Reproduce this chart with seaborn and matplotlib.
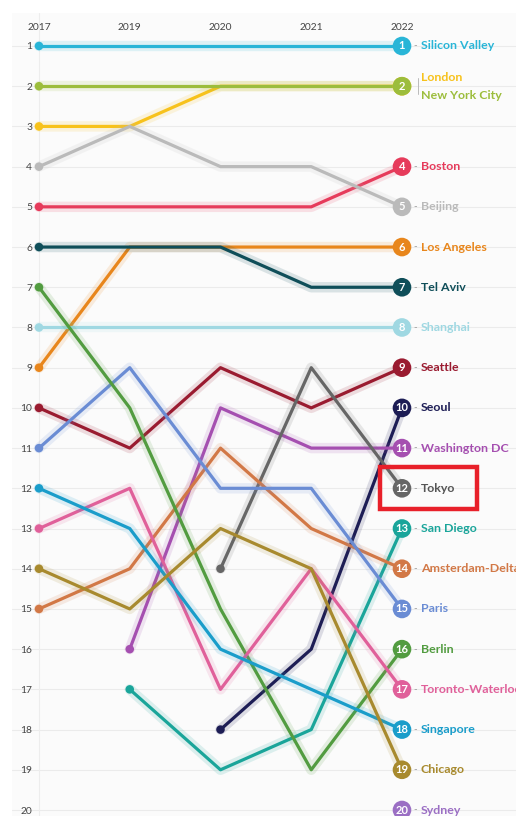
import numpy as np
import pandas as pd
import seaborn as sns
import matplotlib
matplotlib.use("Agg")
import matplotlib.pyplot as plt
import matplotlib.patheffects as pe
from matplotlib.patches import Rectangle

years = ['2017', '2019', '2020', '2021', '2022']
cities = ['Silicon Valley', 'London', 'New York City', 'Boston', 'Beijing',
          'Los Angeles', 'Tel Aviv', 'Shanghai', 'Seattle', 'Seoul',
          'Washington DC', 'Tokyo', 'San Diego', 'Amsterdam-Delta', 'Paris',
          'Berlin', 'Toronto-Waterloo', 'Singapore', 'Chicago', 'Sydney']
nan = np.nan
rank_2017 = [1, 3, 2, 5, 4, 9, 6, 8, 10, nan, nan, nan, nan, 15, 11, 7, 13, 12, 14, nan]
rank_2019 = [1, 3, 2, 5, 3, 6, 6, 8, 11, nan, 16, nan, 17, 14, 9, 10, 12, 13, 15, nan]
rank_2020 = [1, 2, 2, 5, 4, 6, 6, 8, 9, 18, 10, 14, 19, 11, 12, 15, 17, 16, 13, nan]
rank_2021 = [1, 2, 2, 5, 4, 6, 7, 8, 10, 16, 11, 9, 18, 13, 12, 19, 14, 17, 14, nan]
rank_2022 = [1, 2, 2, 4, 5, 6, 7, 8, 9, 10, 11, 12, 13, 14, 15, 16, 17, 18, 19, 20]
colors = ['#29b5d7', '#f7c21c', '#9cbd3c', '#e63b5b', '#bababa',
          '#e8861c', '#0f4e59', '#9fd8e2', '#9a1b30', '#1d1d55',
          '#a54fb0', '#666666', '#1aa59a', '#d27846', '#6a8cd4',
          '#529c40', '#e0609a', '#1a9dca', '#a88a2e', '#9b6fc4']
highlight_city = 'Tokyo'

palette = dict(zip(cities, colors))
ranks = [rank_2017, rank_2019, rank_2020, rank_2021, rank_2022]
rows = []
for yi, yr in enumerate(years):
    for ci, c in enumerate(cities):
        rows.append({'city': c, 'year': yr, 'x': yi, 'rank': ranks[yi][ci]})
df = pd.DataFrame(rows)

sns.set_theme(style='white')
plt.rcParams['font.family'] = ['Lato', 'DejaVu Sans']

W, H = 516, 816
fig = plt.figure(figsize=(W / 100, H / 100), dpi=100)
fig.patch.set_facecolor('white')
ax_left, ax_top = 12, 13
ax = fig.add_axes([ax_left / W, 0, 1 - ax_left / W, 1 - ax_top / H])
ax.set_facecolor('#fbfbfb')

# scale: x index 0 at px 39, index 4 at px 402 ; rank 1 at px 46, rank 20 at px 810
xu = (402 - 39) / 4
yu = (810 - 46) / 19
ax.set_xlim(-(39 - ax_left) / xu, (W - 39) / xu)
ax.set_ylim(1 + (H - 46) / yu, 1 - (46 - ax_top) / yu)

# gridlines
for r in range(1, 21):
    ax.axhline(r, color='#ebebeb', lw=0.8, zorder=0)
ax.axvline(0, color='#ededed', lw=0.8, zorder=0)

for c in cities:
    sub = df[(df.city == c)].dropna()
    if len(sub) < 2:
        continue
    col = palette[c]
    sns.lineplot(data=sub, x='x', y='rank', color=col, lw=2.3, ax=ax,
                 sort=False, legend=False, zorder=3,
                 path_effects=[pe.Stroke(linewidth=7.5, foreground=col, alpha=0.14),
                               pe.Normal()])
    first = sub.iloc[[0]]
    sns.scatterplot(data=first, x='x', y='rank', color=col, s=38, ax=ax,
                    edgecolor='none', legend=False, zorder=4)

end = df[df.year == years[-1]]
sns.scatterplot(data=end, x='x', y='rank', hue='city', palette=palette, s=180,
                ax=ax, edgecolor='none', legend=False, zorder=5)

LFS = 8.9
for _, row in end.iterrows():
    c, r = row.city, row['rank']
    col = palette[c]
    if c == 'London':
        continue
    ax.text(row.x, r, str(int(r)), color='white', fontsize=8, fontweight='bold',
            ha='center', va='center', zorder=6)
    if c == 'New York City':
        ax.annotate('London', (row.x, r), xytext=(13.5, 6.5), textcoords='offset points',
                    color=palette['London'], fontsize=LFS, fontweight='bold',
                    va='center', ha='left', annotation_clip=False)
        ax.annotate('New York City', (row.x, r), xytext=(13.5, -6.5),
                    textcoords='offset points', color=col, fontsize=LFS,
                    fontweight='bold', va='center', ha='left', annotation_clip=False)
        ax.plot([row.x + 11.5 / xu * 1.389] * 2, [r - 0.2, r + 0.2], color='#bbbbbb', lw=0.7)
        continue
    tcol = '#555555' if c == 'Tokyo' else col
    ax.annotate('-', (row.x, r), xytext=(8.5, 0), textcoords='offset points',
                color='#999999', fontsize=7, va='center', ha='left')
    ax.annotate(c, (row.x, r), xytext=(13.5, 0), textcoords='offset points',
                color=tcol, fontsize=LFS, fontweight='bold', va='center', ha='left',
                annotation_clip=False)

# highlight box
hr = rank_2022[cities.index(highlight_city)]
ax.add_patch(Rectangle((4 - 22 / xu, hr - 0.52), 97 / xu, 1.04, fill=False,
                       edgecolor='#e8202a', lw=3.2, zorder=7))

ax.set_xticks(range(len(years)))
ax.set_xticklabels(years)
ax.set_yticks(range(1, 21))
ax.set_yticklabels([str(i) for i in range(1, 21)])
ax.xaxis.tick_top()
ax.tick_params(axis='x', length=0, pad=-13.5, labelsize=7.4, labelcolor='#444444')
ax.tick_params(axis='y', length=0, pad=-14.5, labelsize=7.4, labelcolor='#444444')
ax.set_xlabel('')
ax.set_ylabel('')
for s in ax.spines.values():
    s.set_visible(False)

fig.savefig('out.png', dpi=100, facecolor='white')
